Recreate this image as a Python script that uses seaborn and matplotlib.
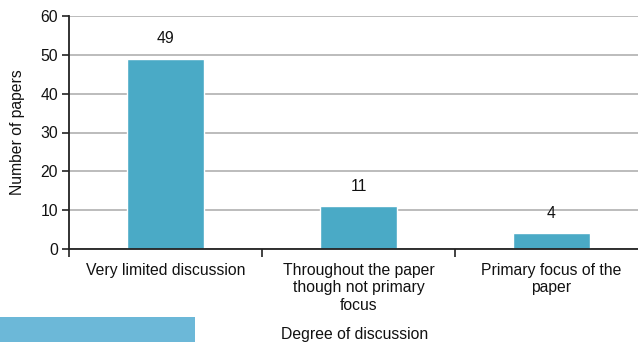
import matplotlib
matplotlib.use("Agg")
import matplotlib.pyplot as plt
import matplotlib.patches as mpatches
import seaborn as sns
import pandas as pd

categories = ["Very limited discussion",
              "Throughout the paper\nthough not primary\nfocus",
              "Primary focus of the\npaper"]
papers = [49, 11, 4]
y_ticks = [0, 10, 20, 30, 40, 50, 60]

sns.set_style("white")
plt.rcParams["font.family"] = ["Liberation Sans", "DejaVu Sans"]
plt.rcParams["text.color"] = "#111111"
plt.rcParams["xtick.color"] = "#111111"
plt.rcParams["ytick.color"] = "#111111"
plt.rcParams["axes.labelcolor"] = "#111111"

FS = 11.3

df = pd.DataFrame({"category": categories, "papers": papers})

fig = plt.figure(figsize=(6.38, 3.42), dpi=100)
ax = fig.add_axes([69 / 638, 93 / 342, 579 / 638, 233 / 342])

sns.barplot(data=df, x="category", y="papers", color="#4aaac6",
            saturation=1, width=0.4, ax=ax, zorder=3)

ax.set_xlim(-0.5, 2.5)
ax.set_ylim(0, 60)
ax.set_yticks(y_ticks)
ax.yaxis.grid(True, color="#b0b0b0", linewidth=1.2, zorder=0)
ax.set_axisbelow(True)

for s in ["top", "right"]:
    ax.spines[s].set_visible(False)
for s in ["left", "bottom"]:
    ax.spines[s].set_color("#222222")
    ax.spines[s].set_linewidth(1.3)
    ax.spines[s].set_zorder(4)

ax.tick_params(axis="y", which="major", direction="out", length=5,
               width=1.2, color="#222222", labelsize=FS, pad=3, left=True)
ax.tick_params(axis="x", which="major", length=0, labelsize=FS, pad=10)
ax.set_xticks([-0.5, 0.5, 1.5], minor=True)
ax.tick_params(axis="x", which="minor", direction="out", length=6,
               width=1.2, color="#222222", bottom=True)

for i, v in enumerate(papers):
    ax.annotate(str(v), (i, v), xytext=(0, 9), textcoords="offset points",
                ha="center", va="bottom", fontsize=FS)

ax.set_xlabel("")
ax.set_ylabel("Number of papers", fontsize=FS, labelpad=11)
fig.text(355 / 638, 1 - 334 / 342, "Degree of discussion",
         ha="center", va="center", fontsize=FS)

fig.patches.append(mpatches.Rectangle((0, 0), 195 / 638, 25 / 342,
                                      transform=fig.transFigure,
                                      facecolor="#6cb8d8", edgecolor="none"))

fig.savefig("out.png", dpi=100)
